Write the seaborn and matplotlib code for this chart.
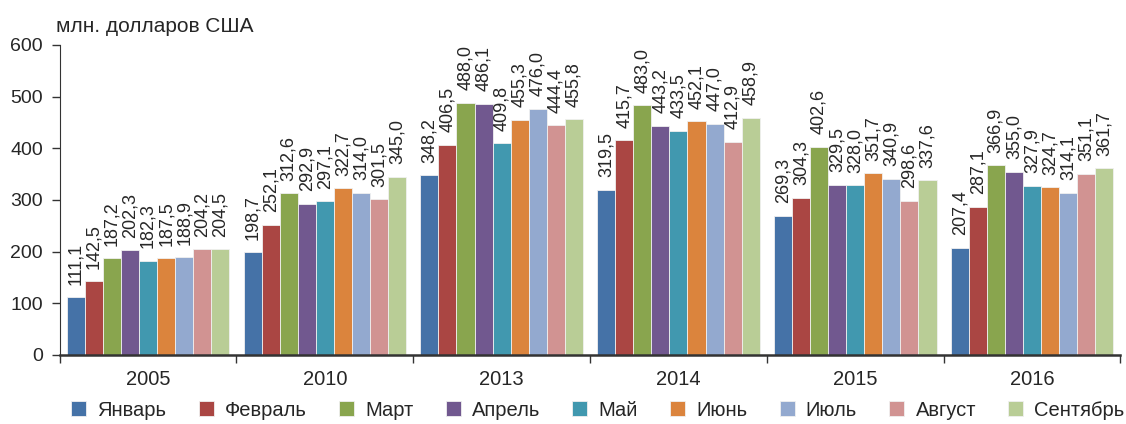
import pandas as pd
import numpy as np
import matplotlib.pyplot as plt
import seaborn as sns

years = ['2005', '2010', '2013', '2014', '2015', '2016']
months = ['Январь', 'Февраль', 'Март', 'Апрель', 'Май', 'Июнь', 'Июль', 'Август', 'Сентябрь']

v2005 = [111.1, 142.5, 187.2, 202.3, 182.3, 187.5, 188.9, 204.2, 204.5]
v2010 = [198.7, 252.1, 312.6, 292.9, 297.1, 322.7, 314.0, 301.5, 345.0]
v2013 = [348.2, 406.5, 488.0, 486.1, 409.8, 455.3, 476.0, 444.4, 455.8]
v2014 = [319.5, 415.7, 483.0, 443.2, 433.5, 452.1, 447.0, 412.9, 458.9]
v2015 = [269.3, 304.3, 402.6, 329.5, 328.0, 351.7, 340.9, 298.6, 337.6]
v2016 = [207.4, 287.1, 366.9, 355.0, 327.9, 324.7, 314.1, 351.1, 361.7]
values = [v2005, v2010, v2013, v2014, v2015, v2016]

colors = ['#4572A7', '#AA4643', '#89A54E', '#71588F', '#4198AF',
          '#DB843D', '#93A9CF', '#D19392', '#B9CD96']

rows = []
for y, vals in zip(years, values):
    for m, v in zip(months, vals):
        rows.append({'year': y, 'month': m, 'value': v})
df = pd.DataFrame(rows)

sns.set_style('white')
plt.rcParams['font.family'] = ['Liberation Sans', 'DejaVu Sans']

fig, ax = plt.subplots(figsize=(11.26, 4.24), dpi=100)
fig.subplots_adjust(left=0.053, right=0.995, bottom=0.163, top=0.894)

sns.barplot(data=df, x='year', y='value', hue='month', order=years,
            hue_order=months, palette=colors, saturation=1, width=0.92,
            errorbar=None, edgecolor='#f0f0f0', linewidth=0.6, legend=True, ax=ax)

# value labels, comma as decimal separator
for i, cont in enumerate(ax.containers):
    labs = [f"{vals[i]:.1f}".replace('.', ',') for vals in values]
    ax.bar_label(cont, labels=labs, rotation=90, padding=9, fontsize=13)

ax.set_ylim(0, 600)
ax.set_xlim(-0.5, len(years) - 0.5)
ax.set_yticks(range(0, 601, 100))
ax.tick_params(axis='y', labelsize=14, length=6, width=1, color='#333333',
               direction='out', left=True, pad=6)
ax.tick_params(axis='x', labelsize=14.5, length=0, pad=11)
ax.set_xticks(np.arange(-0.5, len(years), 1.0), minor=True)
ax.tick_params(axis='x', which='minor', length=6, width=1, color='#333333',
               direction='out', bottom=True)
ax.set_xlabel('')
ax.set_ylabel('')
for s in ['top', 'right']:
    ax.spines[s].set_visible(False)
ax.spines['left'].set_color('#333333')
ax.spines['bottom'].set_color('#333333')
ax.spines['bottom'].set_linewidth(1.8)

fig.text(56 / 1126, 1 - 27 / 424, 'млн. долларов США', fontsize=15, ha='left', va='center')

handles, labels = ax.get_legend_handles_labels()
ax.get_legend().remove()
fig.legend(handles, labels, loc='center', bbox_to_anchor=(0.531, 1 - 410 / 424), ncol=9,
           frameon=False, fontsize=14.5, handlelength=0.75, handleheight=0.75,
           handletextpad=0.55, columnspacing=1.6, borderaxespad=0, borderpad=0)

fig.savefig('out.png', dpi=100)
